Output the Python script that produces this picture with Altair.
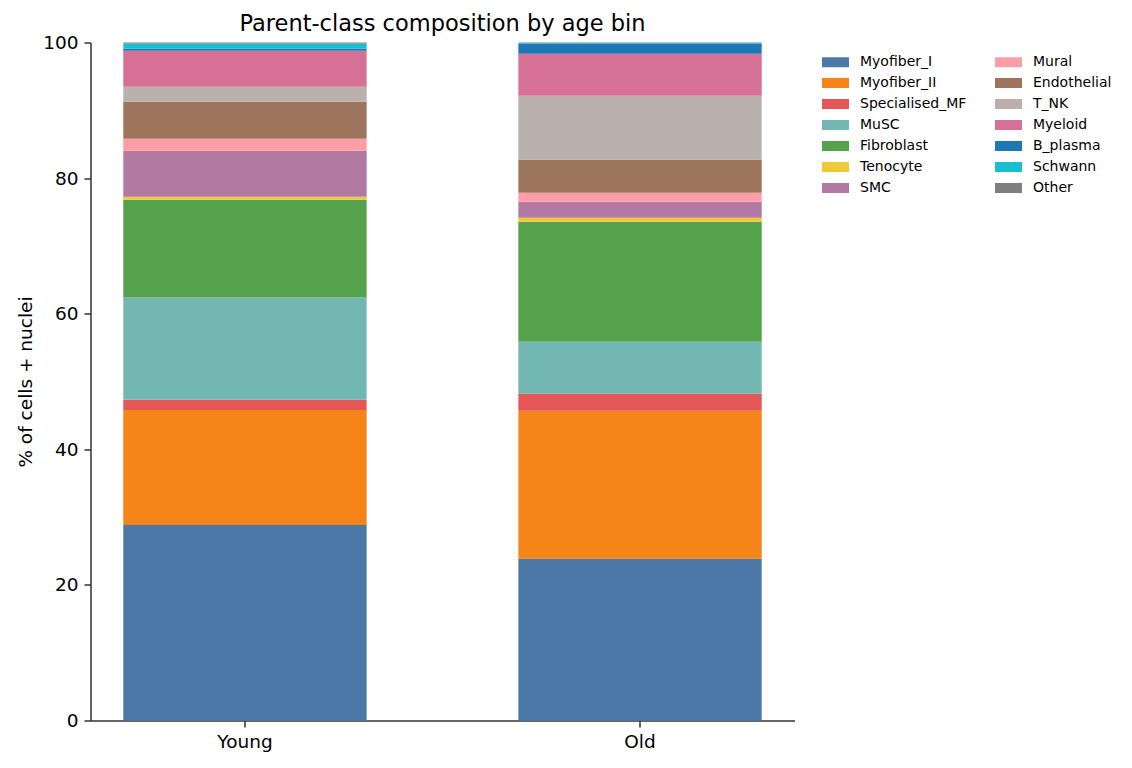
import altair as alt
import pandas as pd

ages = ["Young", "Old"]
classes = ["Myofiber_I", "Myofiber_II", "Specialised_MF", "MuSC", "Fibroblast",
           "Tenocyte", "SMC", "Mural", "Endothelial", "T_NK", "Myeloid",
           "B_plasma", "Schwann", "Other"]
colors = ["#4C78A8", "#F58518", "#E45756", "#72B7B2", "#54A24B", "#EECA3B",
          "#B279A2", "#FF9DA6", "#9D755D", "#BAB0AC", "#D67195", "#1F77B4",
          "#17BECF", "#7F7F7F"]
young = [28.85, 16.95, 1.5, 15.1, 14.4, 0.44, 6.8, 1.77, 5.46, 2.21, 5.3, 0.3, 0.79, 0.13]
old = [23.85, 21.85, 2.5, 7.65, 17.7, 0.59, 2.36, 1.33, 4.87, 9.44, 6.19, 1.53, 0.05, 0.09]
y_ticks = [0, 20, 40, 60, 80, 100]

rows = []
for age, vals in zip(ages, [young, old]):
    for i, (c, v) in enumerate(zip(classes, vals)):
        rows.append({"age": age, "cls": c, "value": v, "idx": i})
df = pd.DataFrame(rows)

FONT = "DejaVu Sans"
AX = "#333333"

chart = alt.Chart(df).mark_bar().encode(
    x=alt.X("age:N", sort=ages,
            scale=alt.Scale(paddingInner=0.384, paddingOuter=0.083),
            axis=alt.Axis(title=None, labelAngle=0, bandPosition=0.5,
                          labelFontSize=18.5, labelFont=FONT, labelColor="#000",
                          tickSize=6.5, tickWidth=1.5, tickColor=AX,
                          domainColor=AX, domainWidth=1.5, labelPadding=5)),
    y=alt.Y("value:Q", stack="zero",
            scale=alt.Scale(domain=[0, 100], nice=False),
            axis=alt.Axis(title="% of cells + nuclei", values=y_ticks, grid=False,
                          labelFontSize=18.5, labelFont=FONT, labelColor="#000",
                          titleFontSize=18.5, titleFont=FONT, titleColor="#000",
                          titleFontWeight="normal", titlePadding=7,
                          tickSize=6.5, tickWidth=1.5, tickColor=AX,
                          domainColor=AX, domainWidth=1.5, labelPadding=6)),
    color=alt.Color("cls:N",
                    scale=alt.Scale(domain=classes, range=colors),
                    legend=alt.Legend(title=None, orient="none", legendX=731.5, legendY=6,
                                      columns=2, columnPadding=28, rowPadding=0,
                                      symbolType="M-1,-0.37H1V0.37H-1Z", symbolSize=729,
                                      symbolStrokeWidth=0, symbolOpacity=1,
                                      labelFontSize=14, labelFont=FONT, labelColor="#000",
                                      labelOffset=11, padding=0)),
    order=alt.Order("idx:Q", sort="ascending"),
).properties(
    width=704, height=678,
    title=alt.TitleParams("Parent-class composition by age bin", fontSize=22.5,
                          font=FONT, fontWeight="normal", color="#000",
                          anchor="middle", offset=-2),
    autosize=alt.AutoSizeParams(type="none"),
    padding={"left": 82.5, "top": 34.5, "right": 320, "bottom": 35},
).configure_view(stroke=None)

chart.save("out.html", embed_options={"renderer": "svg", "actions": False})
